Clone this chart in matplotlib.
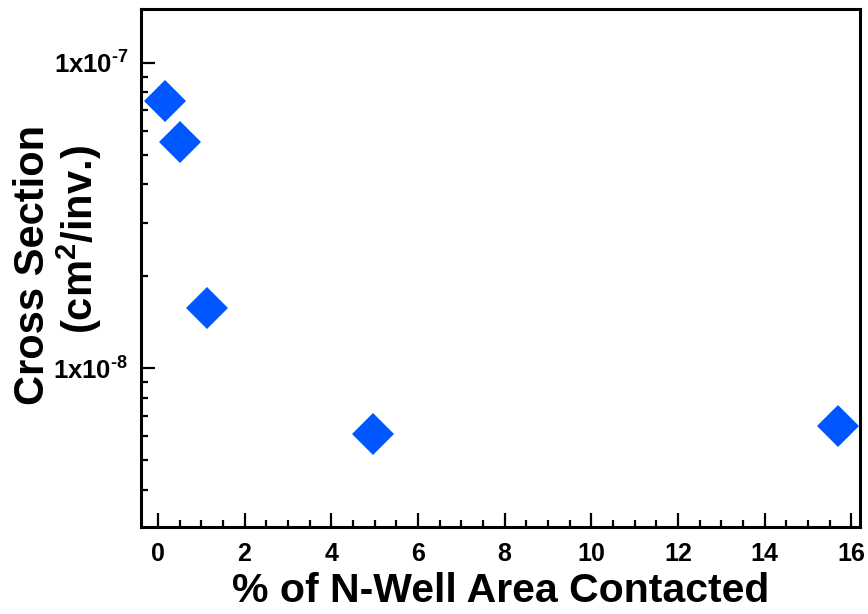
import matplotlib
matplotlib.use("Agg")
import matplotlib.pyplot as plt
from matplotlib.ticker import MultipleLocator, LogLocator, FixedLocator, NullFormatter

# Single-event cross section vs. contacted N-well area
area_pct = [0.16, 0.51, 1.13, 4.97, 15.7]
cross_section = [7.5e-8, 5.5e-8, 1.58e-8, 6.1e-9, 6.45e-9]

x_ticks = [0, 2, 4, 6, 8, 10, 12, 14, 16]
y_ticks = [1e-8, 1e-7]
y_tick_labels = [r"1x10$^{\text{-8}}$", r"1x10$^{\text{-7}}$"]

plt.rcParams["font.family"] = ["Liberation Sans", "DejaVu Sans"]
plt.rcParams["mathtext.fontset"] = "custom"
plt.rcParams["mathtext.rm"] = "Liberation Sans:bold"
plt.rcParams["mathtext.it"] = "Liberation Sans:bold"
plt.rcParams["mathtext.bf"] = "Liberation Sans:bold"

fig = plt.figure(figsize=(8.68, 6.14), dpi=100)
ax = fig.add_axes([0.1624, 0.1422, 0.9908 - 0.1624, 0.9853 - 0.1422])

ax.plot(area_pct, cross_section, linestyle="none", marker="D",
        markersize=21, color="#0057FF", markeredgewidth=0, clip_on=False)

ax.set_yscale("log")
ax.set_xlim(-0.39, 16.2)
ax.set_ylim(3.03e-9, 1.5e-7)

ax.xaxis.set_major_locator(FixedLocator(x_ticks))
ax.xaxis.set_minor_locator(MultipleLocator(0.5))
ax.set_xticklabels([str(t) for t in x_ticks], fontsize=18, fontweight="bold")

ax.yaxis.set_major_locator(FixedLocator(y_ticks))
ax.set_yticklabels(y_tick_labels, fontsize=18.5, fontweight="bold")
ax.yaxis.set_minor_locator(LogLocator(base=10, subs=range(2, 10)))
ax.yaxis.set_minor_formatter(NullFormatter())

ax.tick_params(which="both", direction="in", top=False, right=False, width=1.6)
ax.tick_params(which="major", length=10)
ax.tick_params(axis="x", which="major", pad=11)
ax.tick_params(axis="y", which="major", pad=9)
ax.tick_params(which="minor", length=5)
for s in ax.spines.values():
    s.set_linewidth(2.2)

ax.set_xlabel("% of N-Well Area Contacted", fontsize=29.5, fontweight="bold", labelpad=4)
fig.text(0.038, 0.568, "Cross Section", rotation=90, fontsize=30, fontweight="bold",
         ha="center", va="center")
fig.text(0.091, 0.609, "(cm$^{2}$/inv.)", rotation=90, fontsize=30, fontweight="bold",
         ha="center", va="center")

fig.savefig("out.png", dpi=100)
